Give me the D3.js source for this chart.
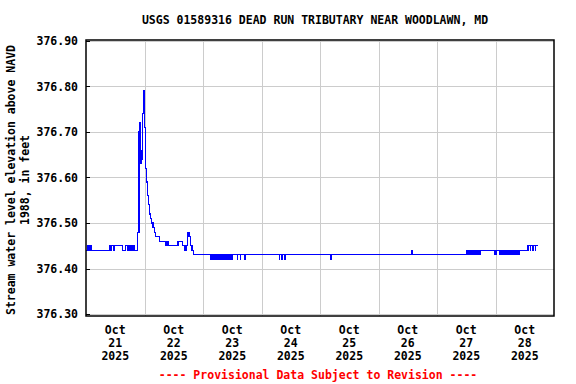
<!DOCTYPE html>
<html>
<head>
<meta charset="utf-8">
<script src="https://cdn.jsdelivr.net/npm/d3@7"></script>
<style>
  body { margin: 0; background: #fff; }
  text { font-family: "DejaVu Sans Mono", "Liberation Mono", monospace; font-weight: bold; }
</style>
</head>
<body>
<div id="chart"></div>
<script>
// readings (step changes)
const readTimes = [
  "10-21 00:00","10-21 00:30","10-21 00:45","10-21 01:15","10-21 01:30","10-21 01:45","10-21 02:15",
  "10-21 09:45","10-21 10:15","10-21 10:30","10-21 11:15","10-21 11:30","10-21 15:00","10-21 16:15",
  "10-21 17:15","10-21 17:30","10-21 17:45","10-21 18:30","10-21 19:15","10-21 19:45","10-21 20:00",
  "10-21 21:15","10-21 21:45","10-21 22:00","10-21 22:15","10-21 22:30","10-21 22:45","10-21 23:00",
  "10-21 23:15","10-21 23:30","10-21 23:45","10-22 00:00","10-22 00:15","10-22 00:30","10-22 00:45",
  "10-22 01:15","10-22 01:30","10-22 02:00","10-22 02:30","10-22 03:00","10-22 03:30","10-22 04:00",
  "10-22 04:30","10-22 06:15","10-22 08:45","10-22 09:00","10-22 09:15","10-22 09:45","10-22 10:00",
  "10-22 13:45","10-22 15:30","10-22 16:30","10-22 16:45","10-22 17:00","10-22 17:15","10-22 17:45",
  "10-22 18:15","10-22 18:45","10-22 19:00","10-22 19:30","10-22 20:15",
  "10-23 03:15","10-23 03:45","10-23 04:00","10-23 04:15","10-23 04:30","10-23 05:00","10-23 05:15",
  "10-23 05:30","10-23 06:00","10-23 06:30","10-23 06:45","10-23 07:00","10-23 07:30","10-23 08:00",
  "10-23 08:15","10-23 08:30","10-23 09:00","10-23 09:30","10-23 09:45","10-23 10:15","10-23 10:45",
  "10-23 11:00","10-23 11:30","10-23 11:45","10-23 12:00","10-23 12:15",
  "10-23 14:00","10-23 14:15","10-23 15:15","10-23 15:30","10-23 17:15","10-23 17:30",
  "10-24 07:15","10-24 07:30","10-24 08:15","10-24 08:30","10-24 09:30","10-24 09:45",
  "10-25 04:30","10-25 04:45",
  "10-26 13:45","10-26 14:00",
  "10-27 12:15","10-27 12:30","10-27 12:45","10-27 13:00","10-27 13:15","10-27 13:30","10-27 13:45",
  "10-27 14:00","10-27 14:15","10-27 14:30","10-27 14:45","10-27 15:00","10-27 15:30","10-27 15:45",
  "10-27 16:00","10-27 16:15","10-27 16:30","10-27 17:00","10-27 17:15","10-27 17:30","10-27 18:00",
  "10-27 23:30","10-27 23:45","10-28 00:00","10-28 00:30","10-28 01:45","10-28 02:00","10-28 02:15",
  "10-28 02:30","10-28 02:45","10-28 03:15","10-28 03:30","10-28 03:45","10-28 04:00","10-28 04:30",
  "10-28 04:45","10-28 05:00","10-28 05:15","10-28 05:45","10-28 06:00","10-28 06:15","10-28 06:30",
  "10-28 07:00","10-28 07:15","10-28 07:30","10-28 07:45","10-28 08:15","10-28 08:30","10-28 08:45",
  "10-28 09:00","10-28 09:30","10-28 09:45","10-28 10:00",
  "10-28 13:00","10-28 13:15","10-28 13:30","10-28 14:15","10-28 14:30","10-28 15:15","10-28 15:30",
  "10-28 16:15","10-28 16:30","10-28 17:30"
]
const readLevels = [
  376.44,376.45,376.44,376.45,376.44,376.45,376.44,
  376.45,376.44,376.45,376.44,376.45,376.44,376.45,
  376.44,376.45,376.44,376.45,376.44,376.45,376.44,
  376.48,376.70,376.72,376.68,376.63,376.66,376.64,
  376.74,376.79,376.79,376.71,376.65,376.62,376.59,
  376.56,376.54,376.52,376.51,376.50,376.49,376.48,
  376.47,376.46,376.45,376.46,376.45,376.46,376.45,
  376.46,376.45,376.44,376.45,376.44,376.45,376.48,
  376.47,376.46,376.45,376.44,376.43,
  376.42,376.43,376.42,376.43,376.42,376.43,376.42,
  376.43,376.42,376.43,376.42,376.43,376.42,376.43,
  376.42,376.43,376.42,376.43,376.42,376.43,376.42,
  376.43,376.42,376.43,376.42,376.43,
  376.42,376.43,376.42,376.43,376.42,376.43,
  376.42,376.43,376.42,376.43,376.42,376.43,
  376.42,376.43,
  376.44,376.43,
  376.44,376.43,376.44,376.43,376.44,376.43,376.44,
  376.43,376.44,376.43,376.44,376.43,376.44,376.43,
  376.44,376.43,376.44,376.43,376.44,376.43,376.44,
  376.43,376.44,376.43,376.44,376.43,376.44,376.43,
  376.44,376.43,376.44,376.43,376.44,376.43,376.44,
  376.43,376.44,376.43,376.44,376.43,376.44,376.43,
  376.44,376.43,376.44,376.43,376.44,376.43,376.44,
  376.43,376.44,376.43,376.44,
  376.45,376.44,376.45,376.44,376.45,376.44,376.45,
  376.44,376.45,376.45
]
const yTicks = [376.30, 376.40, 376.50, 376.60, 376.70, 376.80, 376.90]
const dayLabels = ["10-21","10-22","10-23","10-24","10-25","10-26","10-27","10-28"]

const title = "USGS 01589316 DEAD RUN TRIBUTARY NEAR WOODLAWN, MD"
const yLabel = ["Stream water level elevation above NAVD", "1988, in feet"]
const footer = "---- Provisional Data Subject to Revision ----"

const width = 576, height = 384
const plot = { left: 86, right: 554, top: 40, bottom: 316 }

const parse = d3.timeParse("%Y-%m-%d %H:%M")
const data = readTimes.map((t, i) => ({ t: parse("2025-" + t), v: readLevels[i] }))

const svg = d3.select("#chart").append("svg")
  .attr("width", width)
  .attr("height", height)

const x = d3.scaleTime()
  .domain([parse("2025-10-21 00:00"), parse("2025-10-29 00:00")])
  .range([plot.left, plot.right])
const y = d3.scaleLinear().domain([376.30, 376.90]).range([314, 41])

// grid
const days = d3.timeDay.range(parse("2025-10-22 00:00"), parse("2025-10-29 00:00"))
svg.append("g").selectAll("line").data(days).join("line")
  .attr("x1", d => Math.round(x(d)) + 0.5).attr("x2", d => Math.round(x(d)) + 0.5)
  .attr("y1", plot.top).attr("y2", plot.bottom)
  .attr("stroke", "#cccccc").attr("stroke-width", 1)
svg.append("g").selectAll("line").data(yTicks).join("line")
  .attr("x1", plot.left).attr("x2", plot.right)
  .attr("y1", d => Math.round(y(d)) + 0.5).attr("y2", d => Math.round(y(d)) + 0.5)
  .attr("stroke", "#cccccc").attr("stroke-width", 1)

// data line
const line = d3.line()
  .x(d => x(d.t))
  .y(d => y(d.v))
  .curve(d3.curveStepAfter)
svg.append("path")
  .datum(data)
  .attr("fill", "none")
  .attr("stroke", "#0000ff")
  .attr("stroke-width", 1.2)
  .attr("shape-rendering", "crispEdges")
  .attr("d", line)

// frame
svg.append("rect")
  .attr("x", plot.left).attr("y", plot.top)
  .attr("width", plot.right - plot.left).attr("height", plot.bottom - plot.top)
  .attr("fill", "none").attr("stroke", "#000").attr("stroke-width", 1.5)

// y ticks + labels
const yAxis = svg.append("g")
yAxis.selectAll("line").data(yTicks).join("line")
  .attr("x1", plot.left).attr("x2", plot.left + 4)
  .attr("y1", d => Math.round(y(d)) + 0.5).attr("y2", d => Math.round(y(d)) + 0.5)
  .attr("stroke", "#000")
yAxis.selectAll("text").data(yTicks).join("text")
  .attr("x", 78).attr("y", d => y(d) + 4)
  .attr("text-anchor", "end")
  .style("font-size", "11.5px")
  .text(d => d3.format(".2f")(d))

// x labels (centred on noon)
const fmtMon = d3.timeFormat("%b"), fmtDay = d3.timeFormat("%d"), fmtYear = d3.timeFormat("%Y")
const noon = dayLabels.map(d => parse("2025-" + d + " 12:00"))
const xl = svg.append("g").selectAll("text").data(noon).join("text")
  .attr("text-anchor", "middle")
  .style("font-size", "11.5px")
xl.append("tspan").attr("x", d => x(d)).attr("y", 334).text(d => fmtMon(d))
xl.append("tspan").attr("x", d => x(d)).attr("y", 347).text(d => fmtDay(d))
xl.append("tspan").attr("x", d => x(d)).attr("y", 360).text(d => fmtYear(d))

// title
svg.append("text")
  .attr("x", 315).attr("y", 24)
  .attr("text-anchor", "middle")
  .style("font-size", "11.5px")
  .text(title)

// y label
svg.append("g").selectAll("text").data(yLabel).join("text")
  .attr("transform", (d, i) => `translate(${15 + i * 14}, 180) rotate(-90)`)
  .attr("text-anchor", "middle")
  .style("font-size", "11.5px")
  .text(d => d)

// footer
svg.append("text")
  .attr("x", 318).attr("y", 379)
  .attr("text-anchor", "middle")
  .attr("fill", "#ff0000")
  .style("font-size", "11.5px")
  .text(footer)
</script>
</body>
</html>
